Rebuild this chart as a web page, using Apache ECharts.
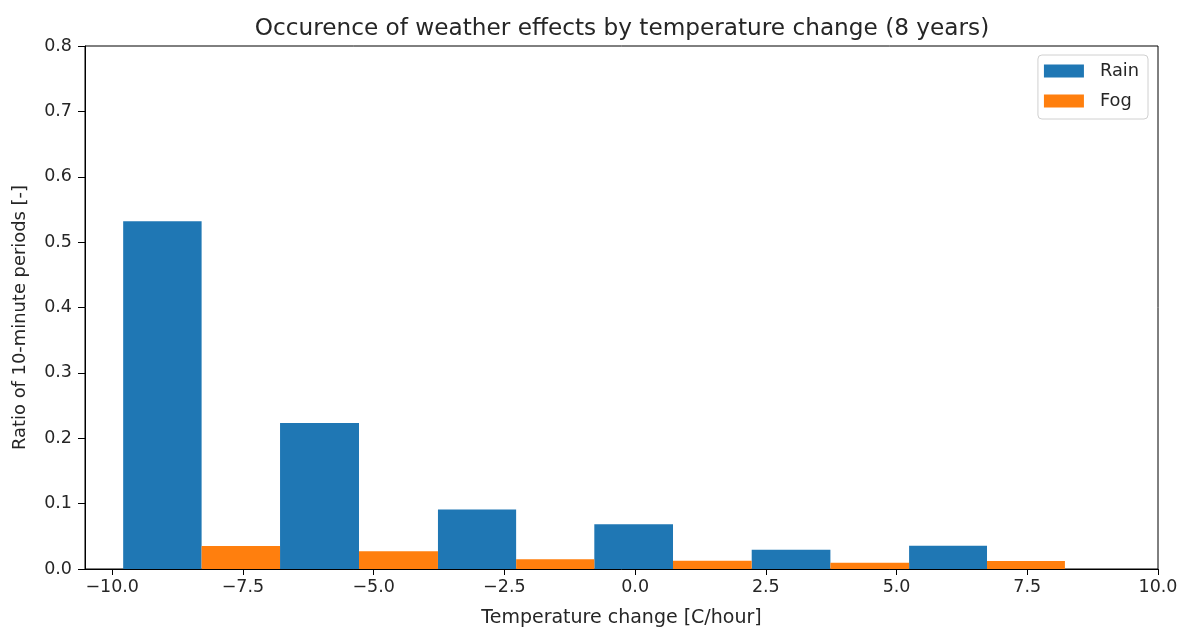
<!DOCTYPE html>
<html>
<head>
<meta charset="utf-8">
<script src="https://cdn.jsdelivr.net/npm/echarts@6/dist/echarts.min.js"></script>
<style>
html,body{margin:0;padding:0;background:#fff;}
#chart{width:1178px;height:627px;}
</style>
</head>
<body>
<div id="chart"></div>
<script>
// Histogram bin edges (temperature change, C/hour)
const binEdges = [-9.79, -6.79, -3.77, -0.78, 2.23, 5.24, 8.22];
// Ratio of 10-minute periods per bin
const rainValues = [0.532, 0.2235, 0.0912, 0.0683, 0.0295, 0.0356];
const fogValues = [0.0351, 0.027, 0.0148, 0.0127, 0.0097, 0.0122];
const xTicks = [-10, -7.5, -5, -2.5, 0, 2.5, 5, 7.5, 10];
const seriesNames = ['Rain', 'Fog'];

const FONT = 'DejaVu Sans';
const rainData = rainValues.map((v, i) => [binEdges[i], (binEdges[i] + binEdges[i + 1]) / 2, v]);
const fogData = fogValues.map((v, i) => [(binEdges[i] + binEdges[i + 1]) / 2, binEdges[i + 1], v]);

function renderBar(params, api) {
  const p0 = api.coord([api.value(0), api.value(2)]);
  const p1 = api.coord([api.value(1), 0]);
  return {
    type: 'rect',
    shape: { x: p0[0], y: p0[1], width: p1[0] - p0[0], height: p1[1] - p0[1] },
    style: { fill: api.visual('color') }
  };
}

const chart = echarts.init(document.getElementById('chart'), null, { renderer: 'canvas' });
chart.setOption({
  animation: false,
  backgroundColor: '#ffffff',
  textStyle: { fontFamily: FONT },
  title: {
    text: 'Occurence of weather effects by temperature change (8 years)',
    left: 617,
    textAlign: 'center',
    top: 12,
    textStyle: { fontFamily: FONT, fontSize: 23.2, fontWeight: 'normal', color: '#262626' }
  },
  legend: {
    data: seriesNames,
    orient: 'vertical',
    right: 30,
    top: 55,
    icon: 'rect',
    itemWidth: 40,
    itemHeight: 13,
    itemGap: 12,
    padding: [7, 9, 9, 6],
    borderColor: '#d0d0d0',
    borderWidth: 1,
    borderRadius: 4,
    backgroundColor: 'rgba(255,255,255,0.8)',
    textStyle: { fontFamily: FONT, fontSize: 17.8, color: '#262626', padding: [0, 0, 0, 11] }
  },
  grid: {
    left: 85, right: 20, top: 46, bottom: 58,
    outerBoundsMode: 'none',
    containLabel: false,
    show: true, borderColor: '#000000', borderWidth: 1, backgroundColor: 'transparent'
  },
  xAxis: {
    type: 'value',
    min: -10.52,
    max: 10,
    name: 'Temperature change [C/hour]',
    nameLocation: 'middle',
    nameGap: 40,
    nameTextStyle: { fontFamily: FONT, fontSize: 19, color: '#262626' },
    axisLine: { show: true, onZero: false, lineStyle: { color: '#000', width: 1 } },
    axisTick: { show: true, inside: false, length: 6, customValues: xTicks, lineStyle: { color: '#000' } },
    axisLabel: {
      customValues: xTicks,
      margin: 9,
      fontFamily: FONT, fontSize: 17.5, color: '#262626',
      formatter: v => (v < 0 ? '\u2212' : '') + Math.abs(v).toFixed(1)
    },
    splitLine: { show: false }
  },
  yAxis: {
    type: 'value',
    min: 0,
    max: 0.8,
    interval: 0.1,
    name: 'Ratio of 10-minute periods [-]',
    nameLocation: 'middle',
    nameGap: 56,
    nameTextStyle: { fontFamily: FONT, fontSize: 17.9, color: '#262626', padding: [0, 20, 0, 0] },
    axisLine: { show: true, onZero: false, lineStyle: { color: '#000', width: 1 } },
    axisTick: { show: true, length: 7, lineStyle: { color: '#000' } },
    axisLabel: {
      margin: 13,
      fontFamily: FONT, fontSize: 17.5, color: '#262626',
      formatter: v => v.toFixed(1)
    },
    splitLine: { show: false }
  },
  series: [
    {
      name: seriesNames[0],
      type: 'custom',
      renderItem: renderBar,
      itemStyle: { color: '#1f77b4' },
      encode: { x: [0, 1], y: 2 },
      data: rainData
    },
    {
      name: seriesNames[1],
      type: 'custom',
      renderItem: renderBar,
      itemStyle: { color: '#ff7f0e' },
      encode: { x: [0, 1], y: 2 },
      data: fogData
    }
  ]
});
</script>
</body>
</html>
